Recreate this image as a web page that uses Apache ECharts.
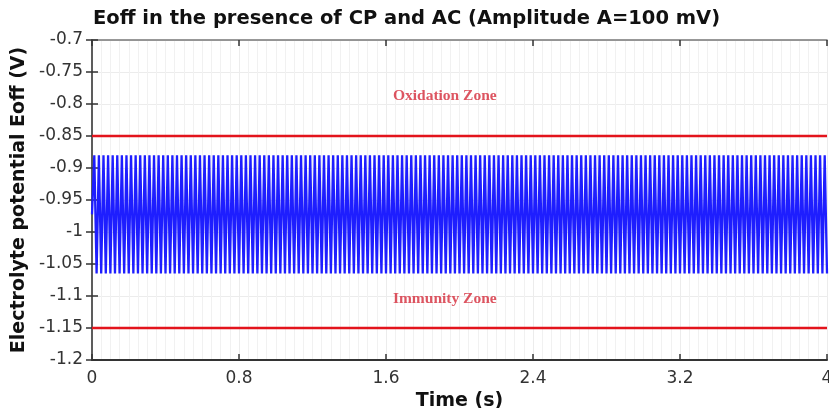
<!DOCTYPE html>
<html>
<head>
<meta charset="utf-8">
<script src="https://cdn.jsdelivr.net/npm/echarts@6/dist/echarts.min.js"></script>
<style>
html,body{margin:0;padding:0;background:#fff;}
#chart{width:829px;height:408px;}
</style>
</head>
<body>
<div id="chart"></div>
<script>
const chartTitle = 'Eoff in the presence of CP and AC (Amplitude A=100 mV)';
const xAxisName = 'Time (s)';
const yAxisName = 'Electrolyte potential Eoff (V)';
const xTicks = [0, 0.8, 1.6, 2.4, 3.2, 4];
const yTicks = [-1.2, -1.15, -1.1, -1.05, -1, -0.95, -0.9, -0.85, -0.8, -0.75, -0.7];
const zoneLimitTimes = [0, 4];
const oxidationLimit = -0.85;
const immunityLimit = -1.15;
const zoneNames = ['Oxidation Zone', 'Immunity Zone'];
const zoneNameTimes = [1.92, 1.92];
const zoneNameValues = [-0.787, -1.104];

// sampled time (s): extrema of the AC signal
const time = [
0,0.0125,0.025,0.0375,0.05,0.0625,0.075,0.0875,
0.1,0.1125,0.125,0.1375,0.15,0.1625,0.175,0.1875,
0.2,0.2125,0.225,0.2375,0.25,0.2625,0.275,0.2875,
0.3,0.3125,0.325,0.3375,0.35,0.3625,0.375,0.3875,
0.4,0.4125,0.425,0.4375,0.45,0.4625,0.475,0.4875,
0.5,0.5125,0.525,0.5375,0.55,0.5625,0.575,0.5875,
0.6,0.6125,0.625,0.6375,0.65,0.6625,0.675,0.6875,
0.7,0.7125,0.725,0.7375,0.75,0.7625,0.775,0.7875,
0.8,0.8125,0.825,0.8375,0.85,0.8625,0.875,0.8875,
0.9,0.9125,0.925,0.9375,0.95,0.9625,0.975,0.9875,
1.0,1.0125,1.025,1.0375,1.05,1.0625,1.075,1.0875,
1.1,1.1125,1.125,1.1375,1.15,1.1625,1.175,1.1875,
1.2,1.2125,1.225,1.2375,1.25,1.2625,1.275,1.2875,
1.3,1.3125,1.325,1.3375,1.35,1.3625,1.375,1.3875,
1.4,1.4125,1.425,1.4375,1.45,1.4625,1.475,1.4875,
1.5,1.5125,1.525,1.5375,1.55,1.5625,1.575,1.5875,
1.6,1.6125,1.625,1.6375,1.65,1.6625,1.675,1.6875,
1.7,1.7125,1.725,1.7375,1.75,1.7625,1.775,1.7875,
1.8,1.8125,1.825,1.8375,1.85,1.8625,1.875,1.8875,
1.9,1.9125,1.925,1.9375,1.95,1.9625,1.975,1.9875,
2.0,2.0125,2.025,2.0375,2.05,2.0625,2.075,2.0875,
2.1,2.1125,2.125,2.1375,2.15,2.1625,2.175,2.1875,
2.2,2.2125,2.225,2.2375,2.25,2.2625,2.275,2.2875,
2.3,2.3125,2.325,2.3375,2.35,2.3625,2.375,2.3875,
2.4,2.4125,2.425,2.4375,2.45,2.4625,2.475,2.4875,
2.5,2.5125,2.525,2.5375,2.55,2.5625,2.575,2.5875,
2.6,2.6125,2.625,2.6375,2.65,2.6625,2.675,2.6875,
2.7,2.7125,2.725,2.7375,2.75,2.7625,2.775,2.7875,
2.8,2.8125,2.825,2.8375,2.85,2.8625,2.875,2.8875,
2.9,2.9125,2.925,2.9375,2.95,2.9625,2.975,2.9875,
3.0,3.0125,3.025,3.0375,3.05,3.0625,3.075,3.0875,
3.1,3.1125,3.125,3.1375,3.15,3.1625,3.175,3.1875,
3.2,3.2125,3.225,3.2375,3.25,3.2625,3.275,3.2875,
3.3,3.3125,3.325,3.3375,3.35,3.3625,3.375,3.3875,
3.4,3.4125,3.425,3.4375,3.45,3.4625,3.475,3.4875,
3.5,3.5125,3.525,3.5375,3.55,3.5625,3.575,3.5875,
3.6,3.6125,3.625,3.6375,3.65,3.6625,3.675,3.6875,
3.7,3.7125,3.725,3.7375,3.75,3.7625,3.775,3.7875,
3.8,3.8125,3.825,3.8375,3.85,3.8625,3.875,3.8875,
3.9,3.9125,3.925,3.9375,3.95,3.9625,3.975,3.9875,
4.0
];

// Eoff (V) at those times
const eoff = [
-0.9725,-0.88,-1.065,-0.88,-1.065,-0.88,-1.065,-0.88,
-1.065,-0.88,-1.065,-0.88,-1.065,-0.88,-1.065,-0.88,
-1.065,-0.88,-1.065,-0.88,-1.065,-0.88,-1.065,-0.88,
-1.065,-0.88,-1.065,-0.88,-1.065,-0.88,-1.065,-0.88,
-1.065,-0.88,-1.065,-0.88,-1.065,-0.88,-1.065,-0.88,
-1.065,-0.88,-1.065,-0.88,-1.065,-0.88,-1.065,-0.88,
-1.065,-0.88,-1.065,-0.88,-1.065,-0.88,-1.065,-0.88,
-1.065,-0.88,-1.065,-0.88,-1.065,-0.88,-1.065,-0.88,
-1.065,-0.88,-1.065,-0.88,-1.065,-0.88,-1.065,-0.88,
-1.065,-0.88,-1.065,-0.88,-1.065,-0.88,-1.065,-0.88,
-1.065,-0.88,-1.065,-0.88,-1.065,-0.88,-1.065,-0.88,
-1.065,-0.88,-1.065,-0.88,-1.065,-0.88,-1.065,-0.88,
-1.065,-0.88,-1.065,-0.88,-1.065,-0.88,-1.065,-0.88,
-1.065,-0.88,-1.065,-0.88,-1.065,-0.88,-1.065,-0.88,
-1.065,-0.88,-1.065,-0.88,-1.065,-0.88,-1.065,-0.88,
-1.065,-0.88,-1.065,-0.88,-1.065,-0.88,-1.065,-0.88,
-1.065,-0.88,-1.065,-0.88,-1.065,-0.88,-1.065,-0.88,
-1.065,-0.88,-1.065,-0.88,-1.065,-0.88,-1.065,-0.88,
-1.065,-0.88,-1.065,-0.88,-1.065,-0.88,-1.065,-0.88,
-1.065,-0.88,-1.065,-0.88,-1.065,-0.88,-1.065,-0.88,
-1.065,-0.88,-1.065,-0.88,-1.065,-0.88,-1.065,-0.88,
-1.065,-0.88,-1.065,-0.88,-1.065,-0.88,-1.065,-0.88,
-1.065,-0.88,-1.065,-0.88,-1.065,-0.88,-1.065,-0.88,
-1.065,-0.88,-1.065,-0.88,-1.065,-0.88,-1.065,-0.88,
-1.065,-0.88,-1.065,-0.88,-1.065,-0.88,-1.065,-0.88,
-1.065,-0.88,-1.065,-0.88,-1.065,-0.88,-1.065,-0.88,
-1.065,-0.88,-1.065,-0.88,-1.065,-0.88,-1.065,-0.88,
-1.065,-0.88,-1.065,-0.88,-1.065,-0.88,-1.065,-0.88,
-1.065,-0.88,-1.065,-0.88,-1.065,-0.88,-1.065,-0.88,
-1.065,-0.88,-1.065,-0.88,-1.065,-0.88,-1.065,-0.88,
-1.065,-0.88,-1.065,-0.88,-1.065,-0.88,-1.065,-0.88,
-1.065,-0.88,-1.065,-0.88,-1.065,-0.88,-1.065,-0.88,
-1.065,-0.88,-1.065,-0.88,-1.065,-0.88,-1.065,-0.88,
-1.065,-0.88,-1.065,-0.88,-1.065,-0.88,-1.065,-0.88,
-1.065,-0.88,-1.065,-0.88,-1.065,-0.88,-1.065,-0.88,
-1.065,-0.88,-1.065,-0.88,-1.065,-0.88,-1.065,-0.88,
-1.065,-0.88,-1.065,-0.88,-1.065,-0.88,-1.065,-0.88,
-1.065,-0.88,-1.065,-0.88,-1.065,-0.88,-1.065,-0.88,
-1.065,-0.88,-1.065,-0.88,-1.065,-0.88,-1.065,-0.88,
-1.065,-0.88,-1.065,-0.88,-1.065,-0.88,-1.065,-0.88,
-1.065
];

const chart = echarts.init(document.getElementById('chart'), null, {renderer: 'canvas'});

const xMin = xTicks[0], xMax = xTicks[xTicks.length - 1];
const yMin = yTicks[0], yMax = yTicks[yTicks.length - 1];
const font = 'DejaVu Sans';

const signalData = time.map((t, i) => [t, eoff[i]]);
const oxData = zoneLimitTimes.map(t => [t, oxidationLimit]);
const imData = zoneLimitTimes.map(t => [t, immunityLimit]);
const labelData = zoneNames.map((n, i) => ({name: n, value: [zoneNameTimes[i], zoneNameValues[i]]}));

chart.setOption({
  animation: false,
  backgroundColor: '#ffffff',
  title: {
    text: chartTitle,
    left: 88,
    top: 4,
    textStyle: {fontFamily: font, fontWeight: 'bold', fontSize: 19.5, color: '#111'}
  },
  grid: {left: 92, right: 2, top: 40, bottom: 48, containLabel: false, outerBoundsMode: 'none'},
  xAxis: [{
    type: 'value', min: xMin, max: xMax, interval: 0.8,
    name: xAxisName, nameLocation: 'middle', nameGap: 27,
    nameTextStyle: {fontFamily: font, fontWeight: 'bold', fontSize: 19, color: '#111'},
    axisLine: {show: true, lineStyle: {color: '#333', width: 2}},
    axisTick: {show: true, inside: true, length: 6, lineStyle: {color: '#333', width: 1.5}},
    axisLabel: {fontFamily: font, fontSize: 17, color: '#333', margin: 10,
      formatter: v => String(Math.round(v * 10) / 10)},
    splitLine: {show: true, lineStyle: {color: '#ececec', width: 1}},
    minorTick: {show: false, splitNumber: 16},
    minorSplitLine: {show: true, lineStyle: {color: '#f1f1f1', width: 1}}
  }, {
    type: 'value', min: xMin, max: xMax, interval: 0.8, position: 'top',
    axisLine: {show: true, lineStyle: {color: '#777', width: 1.5}},
    axisTick: {show: true, inside: true, length: 6, lineStyle: {color: '#333', width: 1.5}},
    axisLabel: {show: false}, splitLine: {show: false}
  }],
  yAxis: [{
    type: 'value', min: yMin, max: yMax, interval: 0.05,
    name: yAxisName, nameLocation: 'middle', nameGap: 62, nameRotate: 90,
    nameTextStyle: {fontFamily: font, fontWeight: 'bold', fontSize: 19, color: '#111'},
    axisLine: {show: true, lineStyle: {color: '#777', width: 2}},
    axisTick: {show: true, inside: true, length: 6, lineStyle: {color: '#333', width: 1.5}},
    axisLabel: {fontFamily: font, fontSize: 17, color: '#333', margin: 9,
      formatter: v => String(Math.round(v * 100) / 100)},
    splitLine: {show: true, lineStyle: {color: '#ececec', width: 1}}
  }, {
    type: 'value', min: yMin, max: yMax, interval: 0.05, position: 'right',
    axisLine: {show: true, lineStyle: {color: '#555', width: 1.5}},
    axisTick: {show: true, inside: true, length: 6, lineStyle: {color: '#333', width: 1.5}},
    axisLabel: {show: false}, splitLine: {show: false}
  }],
  series: [{
    type: 'line', data: signalData, showSymbol: false, symbol: 'none',
    lineStyle: {color: '#1e1eff', width: 2.3}, z: 3
  }, {
    type: 'line', data: oxData, showSymbol: false, symbol: 'none',
    lineStyle: {color: '#e3141c', width: 2.5}, z: 4
  }, {
    type: 'line', data: imData, showSymbol: false, symbol: 'none',
    lineStyle: {color: '#e3141c', width: 2.5}, z: 4
  }, {
    type: 'scatter', data: labelData, symbolSize: 0, z: 5,
    label: {show: true, position: 'inside', formatter: p => p.name,
      fontFamily: 'Liberation Serif', fontWeight: 'bold', fontSize: 15.5, color: '#d42a3a'}
  }]
});
</script>
</body>
</html>
